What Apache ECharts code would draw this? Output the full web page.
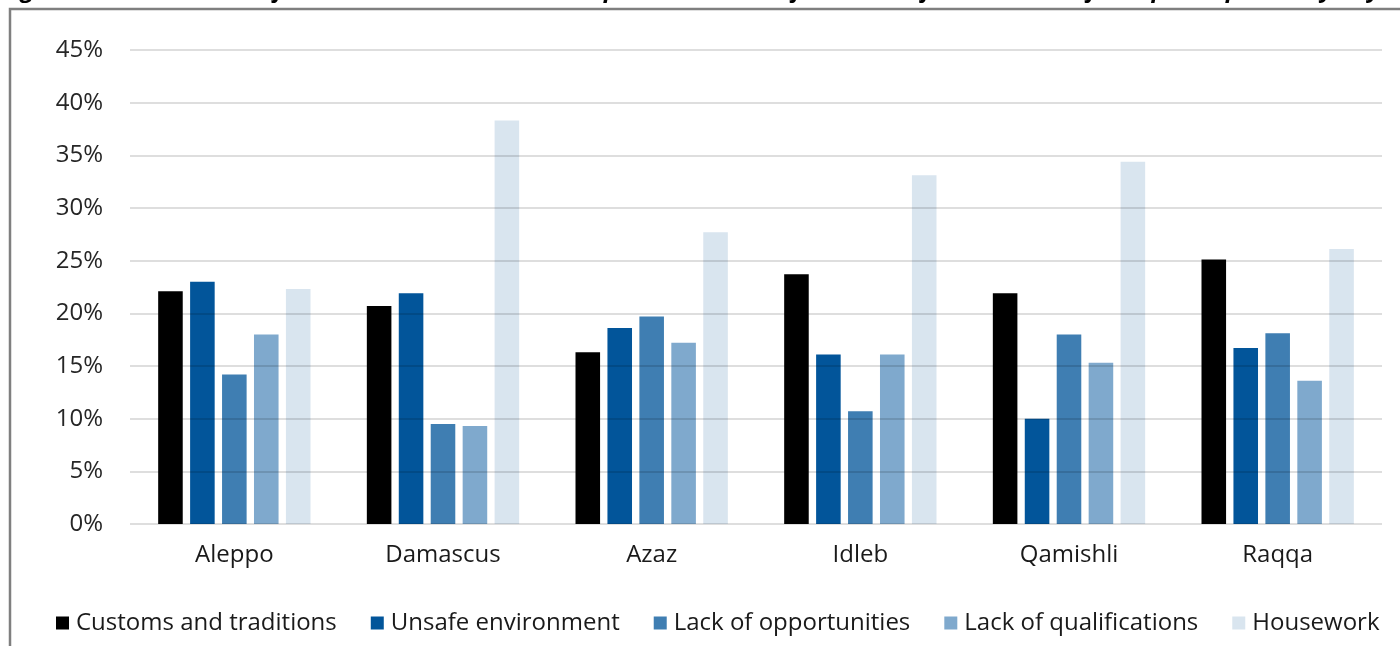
<!DOCTYPE html>
<html>
<head>
<meta charset="utf-8">
<script src="https://cdn.jsdelivr.net/npm/echarts@6/dist/echarts.min.js"></script>
<style>
html,body{margin:0;padding:0;background:#fff;}
#chart{width:1400px;height:646px;}
</style>
</head>
<body>
<div id="chart"></div>
<script>
const titleText = "Figure 11: Distribution of the answers on the most important reasons for the low female labour force participation by city";
const cities = ["Aleppo", "Damascus", "Azaz", "Idleb", "Qamishli", "Raqqa"];
const seriesNames = ["Customs and traditions", "Unsafe environment", "Lack of opportunities", "Lack of qualifications", "Housework"];
const customs = [22.1, 20.7, 16.3, 23.7, 21.9, 25.1];
const unsafe = [23.0, 21.9, 18.6, 16.1, 10.0, 16.7];
const opportunities = [14.2, 9.5, 19.7, 10.7, 18.0, 18.1];
const qualifications = [18.0, 9.3, 17.2, 16.1, 15.3, 13.6];
const housework = [22.3, 38.3, 27.7, 33.1, 34.4, 26.1];
const yTicks = [0, 5, 10, 15, 20, 25, 30, 35, 40, 45];

const colors = ["#000000", "#02559A", "#3F7EB2", "#7FA9CD", "#D9E5EF"];
const allValues = [customs, unsafe, opportunities, qualifications, housework];
const font = "'Open Sans', 'Noto Sans', sans-serif";

const chart = echarts.init(document.getElementById('chart'), null, {renderer: 'canvas'});
chart.setOption({
  backgroundColor: '#ffffff',
  animation: false,
  color: colors,
  title: {
    text: titleText,
    left: -4,
    top: -27,
    textStyle: {fontFamily: font, fontSize: 24, fontWeight: 'bold', fontStyle: 'italic', color: '#000'}
  },
  graphic: [{
    type: 'polyline',
    shape: {points: [[10, 646], [10, 9], [1400, 9]]},
    style: {stroke: '#7f7f7f', lineWidth: 2.5, fill: null},
    silent: true,
    z: 100
  }],
  grid: {left: 130, right: 18, top: 50, bottom: 122, containLabel: false},
  legend: {
    left: 51,
    top: 606,
    itemWidth: 13,
    itemHeight: 13,
    itemGap: 34,
    icon: 'rect',
    textStyle: {fontFamily: font, fontSize: 24, color: '#1a1a1a', padding: [0, 0, 0, 2]},
    data: seriesNames
  },
  xAxis: {
    type: 'category',
    data: cities,
    axisLine: {show: false},
    axisTick: {show: false},
    axisLabel: {fontFamily: font, fontSize: 24, color: '#1a1a1a', margin: 19}
  },
  yAxis: {
    type: 'value',
    min: yTicks[0],
    max: yTicks[yTicks.length - 1],
    interval: yTicks[1] - yTicks[0],
    z: 10,
    axisLine: {show: false},
    axisTick: {show: false},
    splitLine: {lineStyle: {color: 'rgba(0,0,0,0.13)', width: 2}},
    axisLabel: {fontFamily: font, fontSize: 24, color: '#262626', margin: 27, formatter: '{value}%'}
  },
  series: seriesNames.map((name, i) => ({
    name: name,
    type: 'bar',
    data: allValues[i],
    barGap: '30%',
    barCategoryGap: '27%',
    itemStyle: {color: colors[i]}
  }))
});
</script>
</body>
</html>
